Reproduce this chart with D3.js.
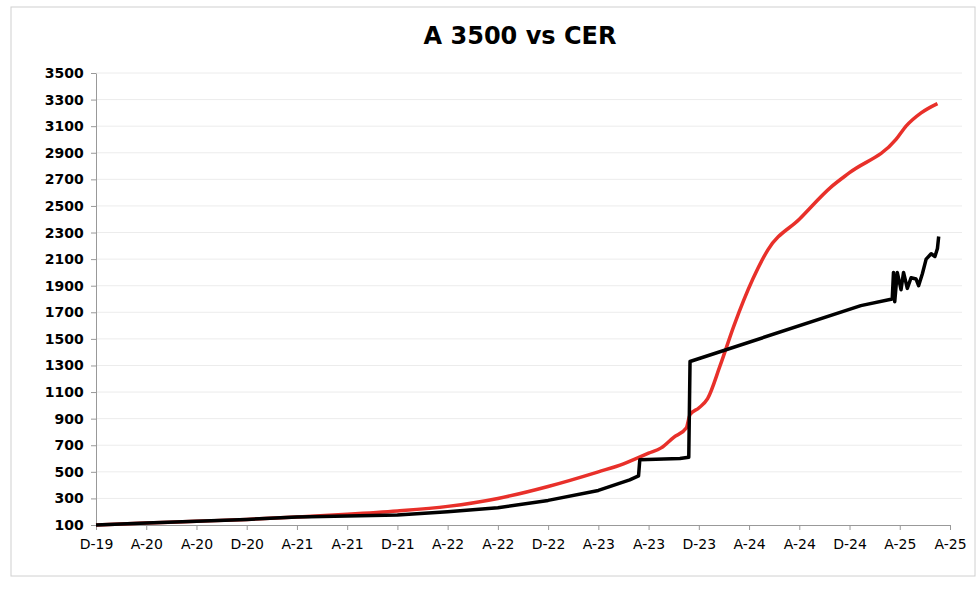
<!DOCTYPE html><html><head><meta charset="utf-8"><script src="https://cdn.jsdelivr.net/npm/d3@7"></script>
<style>body{margin:0;background:#fff}</style></head><body><svg id="c" width="980" height="590"></svg>
<script>
const tickLabels=["D-19","A-20","A-20","D-20","A-21","A-21","D-21","A-22","A-22","D-22","A-23","A-23","D-23","A-24","A-24","D-24","A-25","A-25"];
const yTicks=[100,300,500,700,900,1100,1300,1500,1700,1900,2100,2300,2500,2700,2900,3100,3300,3500];
const cerMonths=[0,4,8,12,16,20,24,28,32,36,40,42,43,44,45,46,47,47.3,48,48.7,49.7,50.8,52.3,53.5,56,58.5,60,63.7,64.5,65.7,67];
const cerValues=[100,115,128,142,160,180,205,240,300,390,500,560,600,640,680,760,830,930,980,1050,1300,1600,1950,2170,2400,2640,2750,3000,3100,3200,3270];
const fxMonths=[0,4,8,12,16,20,24,28,32,36,40,42.5,43.2,43.3,46.5,47.2,47.3,60.9,63.4,63.5,63.6,63.8,64.1,64.3,64.6,64.9,65.3,65.5,65.8,66.1,66.5,66.8,67.0,67.1];
const fxValues=[100,115,128,142,160,168,175,200,230,285,360,440,470,590,600,610,1330,1750,1800,2000,1780,2000,1870,2000,1880,1960,1950,1900,1990,2100,2140,2120,2180,2270];
const svg=d3.select("#c");
svg.append("rect").attr("x",11).attr("y",7).attr("width",964).attr("height",569).attr("fill","none").attr("stroke","#d0d0d0");
svg.append("text").attr("x",520).attr("y",44).attr("text-anchor","middle").attr("font-family","DejaVu Sans").attr("font-weight","bold").attr("font-size",24).text("A 3500 vs CER");
const x=d3.scaleLinear().domain([0,68]).range([96,950]);
const y=d3.scaleLinear().domain([100,3500]).range([525,73]);
const g=svg.append("g");
g.selectAll("line.g").data(yTicks.slice(1)).join("line").attr("x1",96).attr("x2",962).attr("y1",d=>y(d)).attr("y2",d=>y(d)).attr("stroke","#ececec");
const xa=g.append("g").attr("transform","translate(0,525)").call(d3.axisBottom(x).tickValues(d3.range(0,69,4)).tickFormat((d,i)=>tickLabels[i]).tickSize(5).tickSizeOuter(0));
xa.select(".domain").attr("stroke","#999");xa.selectAll("line").attr("stroke","#999");
xa.selectAll("text").attr("font-family","DejaVu Sans").attr("font-size",14).attr("fill","#000").attr("dy","1.15em");
const ya=g.append("g").attr("transform","translate(96,0)").call(d3.axisLeft(y).tickValues(yTicks).tickFormat(d3.format("d")).tickSize(5).tickSizeOuter(0));
ya.select(".domain").attr("stroke","#999");ya.selectAll("line").attr("stroke","#999");
ya.selectAll("text").attr("font-family","DejaVu Sans").attr("font-weight","bold").attr("font-size",14).attr("fill","#000").attr("dx","-0.3em");
const line=d3.line().x(d=>x(d[0])).y(d=>y(d[1])).curve(d3.curveMonotoneX);
g.append("path").attr("d",line(cerMonths.map((m,i)=>[m,cerValues[i]]))).attr("fill","none").attr("stroke","#e8302a").attr("stroke-width",3.5);
g.append("path").attr("d",d3.line().x(d=>x(d[0])).y(d=>y(d[1]))(fxMonths.map((m,i)=>[m,fxValues[i]]))).attr("fill","none").attr("stroke","#000").attr("stroke-width",3.5).attr("stroke-linejoin","round");
</script></body></html>
